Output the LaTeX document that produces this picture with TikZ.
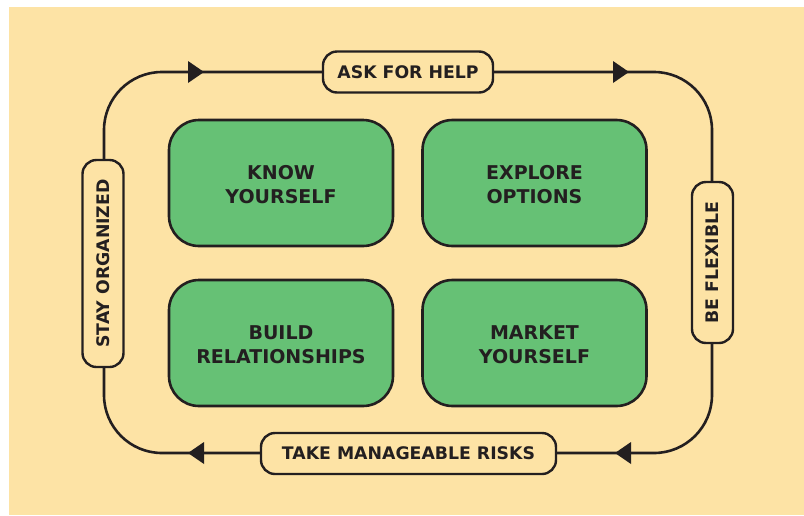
\documentclass[tikz,border=0pt]{standalone}
\usepackage{fontspec}
\setmainfont{DejaVu Sans}
\definecolor{bgyellow}{RGB}{253,227,165}
\definecolor{boxgreen}{RGB}{102,193,117}
\definecolor{ink}{RGB}{35,31,32}
\begin{document}
\begin{tikzpicture}[x=1pt,y=-1pt,
  stage/.style={draw=ink, line width=2.6pt, fill=boxgreen, rounded corners=30pt,
    minimum width=224pt, minimum height=126pt, inner sep=0pt},
  stagetext/.style={align=center, text=ink, inner sep=0pt,
    font=\fontsize{19}{24}\selectfont\bfseries},
  habit/.style={draw=ink, line width=2.4pt, fill=bgyellow, rounded corners=14pt,
    minimum height=41pt, text=ink, inner sep=0pt,
    font=\fontsize{17.3}{21}\selectfont\bfseries},
  loopline/.style={draw=ink, line width=2.6pt, rounded corners=58pt},
  tip/.style={fill=ink}]
\useasboundingbox (0,0) rectangle (804,515);
\fill[bgyellow] (9,7) rectangle (804,515);
% corner coordinates of the loop
\coordinate (tl) at (104,72);
\coordinate (tr) at (712,72);
\coordinate (br) at (712,453);
\coordinate (bl) at (104,453);
% loop path (drawn first, labels on top)
\draw[loopline] (104,263) -- (tl) -- (tr) -- (br) -- (bl) -- cycle;
% arrowheads
\fill[tip] (188,61) -- (204,72) -- (188,83) -- cycle;
\fill[tip] (613,61) -- (629,72) -- (613,83) -- cycle;
\fill[tip] (631,442) -- (615,453) -- (631,464) -- cycle;
\fill[tip] (204,442) -- (188,453) -- (204,464) -- cycle;
% habit labels on the loop
\node[habit, minimum width=170pt] (ask) at (408,72) {ASK FOR HELP};
\node[habit, minimum width=295pt] (risk) at (408.5,453.5) {TAKE MANAGEABLE RISKS};
\node[habit, minimum width=207pt, rotate=90] (org) at (103,263.5) {STAY ORGANIZED};
\node[habit, minimum width=161pt, rotate=90] (flex) at (712.5,262.5) {BE FLEXIBLE};
% stage boxes
\node[stage] (know) at (281,183) {};
\node[stage] (explore) at (534.5,183) {};
\node[stage] (build) at (281,343) {};
\node[stage] (market) at (534.5,343) {};
\node[stagetext] (knowt) at ([yshift=-2pt]know.center) {KNOW\\YOURSELF};
\node[stagetext] (exploret) at ([yshift=-2pt]explore.center) {EXPLORE\\OPTIONS};
\node[stagetext] (buildt) at ([yshift=-2pt]build.center) {BUILD\\RELATIONSHIPS};
\node[stagetext] (markett) at ([yshift=-2pt]market.center) {MARKET\\YOURSELF};
\end{tikzpicture}
\end{document}
